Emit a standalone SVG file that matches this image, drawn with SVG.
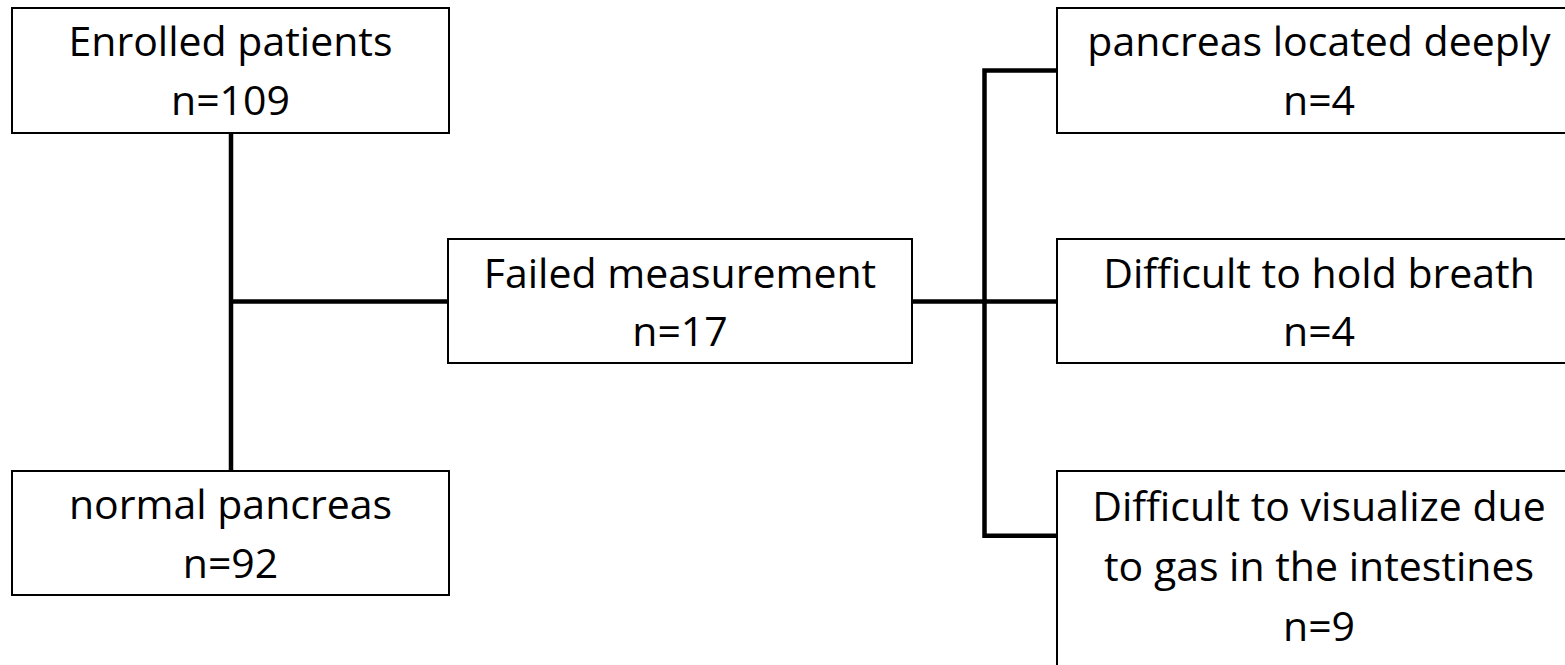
<svg xmlns="http://www.w3.org/2000/svg" width="1565" height="665" viewBox="0 0 1565 665">
<style>
.box { fill: #ffffff; stroke: #000000; stroke-width: 2; }
.conn { stroke: #000000; stroke-width: 4.5; fill: none; stroke-linejoin: miter; stroke-linecap: butt; }
.lbl { font-family: "Open Sans", "Liberation Sans", sans-serif; font-size: 41px; text-anchor: middle; fill: #000000; }
</style>
<rect width="1565" height="665" fill="#ffffff"/>
<g id="connectors">
  <path class="conn" d="M231,133 V471"/>
  <path class="conn" d="M231,301.5 H448"/>
  <path class="conn" d="M912,301.5 H1057"/>
  <path class="conn" d="M1057,70.5 H984.5 V535.8 H1057"/>
</g>
<g id="enrolled">
  <rect class="box" x="12" y="8" width="437" height="125"/>
  <text class="lbl" x="230.5" y="56">Enrolled patients</text>
  <text class="lbl" x="230.5" y="115">n=109</text>
</g>
<g id="normal">
  <rect class="box" x="12" y="471" width="437" height="124"/>
  <text class="lbl" x="230.5" y="519">normal pancreas</text>
  <text class="lbl" x="230.5" y="578">n=92</text>
</g>
<g id="failed">
  <rect class="box" x="448" y="239" width="464" height="124"/>
  <text class="lbl" x="680" y="288">Failed measurement</text>
  <text class="lbl" x="680" y="346">n=17</text>
</g>
<g id="deep">
  <rect class="box" x="1057" y="8" width="524" height="125"/>
  <text class="lbl" x="1319" y="56">pancreas located deeply</text>
  <text class="lbl" x="1319" y="115">n=4</text>
</g>
<g id="breath">
  <rect class="box" x="1057" y="239" width="524" height="124"/>
  <text class="lbl" x="1319" y="288">Difficult to hold breath</text>
  <text class="lbl" x="1319" y="346">n=4</text>
</g>
<g id="gas">
  <rect class="box" x="1057" y="471" width="524" height="210"/>
  <text class="lbl" x="1319" y="521">Difficult to visualize due</text>
  <text class="lbl" x="1319" y="581">to gas in the intestines</text>
  <text class="lbl" x="1319" y="641">n=9</text>
</g>
</svg>
